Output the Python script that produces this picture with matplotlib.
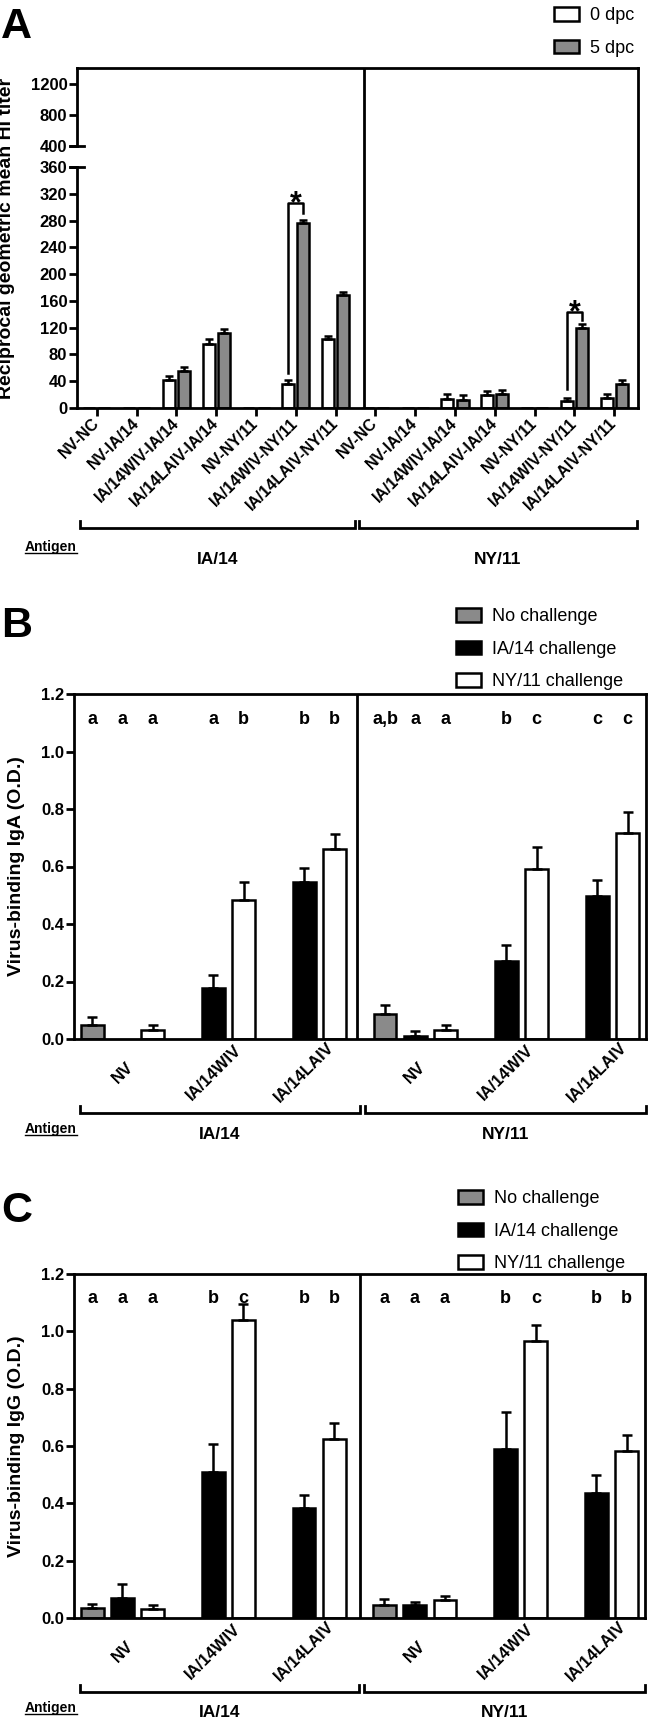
import numpy as np
import matplotlib
matplotlib.use('Agg')
import matplotlib.pyplot as plt
from matplotlib.lines import Line2D

plt.rcParams['font.family'] = ['Liberation Sans', 'DejaVu Sans']
plt.rcParams['font.weight'] = 'bold'
plt.rcParams['axes.labelweight'] = 'bold'

# ---- panel A: HI titers ----
hi_groups = ['NV-NC', 'NV-IA/14', 'IA/14WIV-IA/14', 'IA/14LAIV-IA/14',
             'NV-NY/11', 'IA/14WIV-NY/11', 'IA/14LAIV-NY/11']
hi_labels = hi_groups + hi_groups
hi_0dpc = [0, 0, 41.5, 95.5, 0, 35.5, 103, 0, 0, 14, 19, 0, 10, 15.5]
hi_0dpc_err = [0, 0, 6, 7, 0, 6, 4.5, 0, 0, 6.5, 6.5, 0, 5.5, 6]
hi_5dpc = [0, 0, 55, 111.5, 0, 276, 169, 0, 0, 12.5, 21, 0, 119, 35.5]
hi_5dpc_err = [0, 0, 6.5, 6.5, 0, 5.5, 5, 0, 0, 6.5, 6.5, 0, 6, 6.5]
hi_yticks = [0, 40, 80, 120, 160, 200, 240, 280, 320, 360, 400, 800, 1200]
# significance brackets: (group, bottom on 0 dpc side, top, bottom on 5 dpc side)
hi_sig = [(5, 52, 306, 291), (12, 29, 144, 131)]

# ---- panels B and C: virus-binding antibodies ----
od_groups = ['NV', 'IA/14WIV', 'IA/14LAIV', 'NV', 'IA/14WIV', 'IA/14LAIV']
antigens = ['IA/14', 'NY/11']
series_names = ['No challenge', 'IA/14 challenge', 'NY/11 challenge']

iga_none = [0.050, None, None, 0.088, None, None]
iga_none_err = [0.026, None, None, 0.029, None, None]
iga_ia14 = [None, 0.178, 0.545, 0.009, 0.270, 0.498]
iga_ia14_err = [None, 0.045, 0.049, 0.018, 0.057, 0.054]
iga_ny11 = [0.030, 0.483, 0.660, 0.031, 0.593, 0.716]
iga_ny11_err = [0.017, 0.064, 0.053, 0.016, 0.074, 0.072]
iga_letters = ['a', 'a', 'a', '', 'a', 'b', '', 'b', 'b',
               'a,b', 'a', 'a', '', 'b', 'c', '', 'c', 'c']

igg_none = [0.035, None, None, 0.047, None, None]
igg_none_err = [0.015, None, None, 0.019, None, None]
igg_ia14 = [0.070, 0.509, 0.385, 0.044, 0.591, 0.436]
igg_ia14_err = [0.049, 0.099, 0.043, 0.012, 0.128, 0.063]
igg_ny11 = [0.032, 1.041, 0.626, 0.062, 0.967, 0.581]
igg_ny11_err = [0.012, 0.054, 0.054, 0.016, 0.054, 0.059]
igg_letters = ['a', 'a', 'a', '', 'b', 'c', '', 'b', 'b',
               'a', 'a', 'a', '', 'b', 'c', '', 'b', 'b']

GRAY = '#8a8a8a'
LW = 2.0
W, H = 650, 1723
fig = plt.figure(figsize=(W / 100, H / 100), dpi=100)
underlined = []


def box(l, t, r, b):
    return [l / W, 1 - b / H, (r - l) / W, (b - t) / H]


def fxy(x, y):
    return (x / W, 1 - y / H)


def bracket(ax, spans, y, tip):
    tr = ax.get_xaxis_transform()
    for x0, x1 in spans:
        ax.plot([x0, x0, x1, x1], [y + tip, y, y, y + tip], color='k', lw=LW,
                transform=tr, clip_on=False, solid_joinstyle='miter')


def antigen_labels(ax, spans, x_ant, y_ant, y_lab):
    tr = ax.get_xaxis_transform()
    t = ax.text(x_ant, y_ant, 'Antigen', fontsize=10, ha='center',
                va='center', transform=tr)
    underlined.append(t)
    for (x0, x1), name in zip(spans, antigens):
        ax.text((x0 + x1) / 2, y_lab, name, fontsize=12.5, ha='center',
                va='center', transform=tr)


def style_spines(ax):
    for s in ax.spines.values():
        s.set_linewidth(LW)


def add_legend(ax, handles, names, left, top):
    ax.legend(handles, names, loc='upper left', bbox_to_anchor=fxy(left, top),
              bbox_transform=fig.transFigure, frameon=False,
              prop={'weight': 'normal', 'size': 13}, handlelength=1.4,
              handleheight=0.8, handletextpad=0.6, labelspacing=0.85,
              borderpad=0, borderaxespad=0)


# ================= Panel A =================
axA = fig.add_axes(box(77, 68, 638, 408))


def fwd(y):
    y = np.asarray(y, dtype=float)
    return np.where(y <= 360, y, np.where(y <= 400, 360 + (y - 360) * 0.785,
                                          391.4 + (y - 400) * 0.1165))


def inv(t):
    t = np.asarray(t, dtype=float)
    return np.where(t <= 360, t, np.where(t <= 391.4, 360 + (t - 360) / 0.785,
                                          400 + (t - 391.4) / 0.1165))


axA.set_yscale('function', functions=(fwd, inv))
xa = np.arange(len(hi_labels))
off, bw = 0.19, 0.3
b0 = axA.bar(xa - off, hi_0dpc, bw, color='white', edgecolor='k', linewidth=1.8)
b5 = axA.bar(xa + off, hi_5dpc, bw, color=GRAY, edgecolor='k', linewidth=1.8)
for xs, v, e in ((xa - off, hi_0dpc, hi_0dpc_err), (xa + off, hi_5dpc, hi_5dpc_err)):
    v = np.array(v); e = np.array(e); m = v > 0
    axA.errorbar(xs[m], v[m], yerr=[np.zeros(m.sum()), e[m]], fmt='none',
                 ecolor='k', elinewidth=1.8, capsize=3, capthick=1.8)

axA.set_ylim(0, 1400)
axA.set_xlim(-0.5, 13.6)
axA.set_yticks(hi_yticks, [str(t) for t in hi_yticks])
axA.set_xticks(xa, hi_labels)
plt.setp(axA.get_xticklabels(), rotation=45, ha='right', va='center',
         rotation_mode='anchor')
axA.tick_params(axis='y', labelsize=12, length=6, width=LW, pad=1)
axA.tick_params(axis='x', labelsize=11.5, length=6, width=LW, pad=3)
style_spines(axA)
axA.spines['left'].set_visible(False)
yt = axA.get_yaxis_transform()
for y0, y1 in ((0, 360), (400, 1400)):
    axA.plot([0, 0], [y0, y1], color='k', lw=LW, transform=yt, clip_on=False)
for yb in (360, 400):
    axA.plot([-0.013, 0.013], [yb, yb], color='k', lw=LW, transform=yt,
             clip_on=False)
axA.axvline(6.71, color='k', lw=LW)

for g, ylo, ytop, yhi in hi_sig:
    axA.plot([g - off, g - off, g + off, g + off], [ylo, ytop, ytop, yhi],
             color='k', lw=1.8)
    axA.text(g, ytop - 14, '*', fontsize=22, ha='center', va='baseline')

axA.set_ylabel('Reciprocal geometric mean HI titer', fontsize=14)
axA.yaxis.set_label_coords(-0.11, 0.5)
add_legend(axA, [b0, b5], ['0 dpc', '5 dpc'], 554, 7)

spansA = [(-0.43, 6.48), (6.58, 13.57)]
bracket(axA, spansA, -0.353, 0.02)
antigen_labels(axA, spansA, -1.16, -0.41, -0.447)
fig.text(*fxy(1, 38), 'A', fontsize=31, va='baseline', ha='left')


# ================= Panels B and C =================
group_start = np.array([0, 3, 6, 9.66, 12.66, 15.66])
slots = np.concatenate([[s, s + 1, s + 2] for s in group_start])


def od_panel(ax, data, letters, ylabel, divider):
    handles = []
    for k, (vals, errs, color) in enumerate(zip(data[0::2], data[1::2],
                                                [GRAY, 'black', 'white'])):
        m = np.array([v is not None for v in vals])
        xs = group_start[m] + k
        v = np.array([x for x in vals if x is not None])
        e = np.array([x for x in errs if x is not None])
        h = ax.bar(xs, v, 0.75, color=color, edgecolor='k', linewidth=1.8)
        ax.errorbar(xs, v, yerr=[np.zeros(len(v)), e], fmt='none', ecolor='k',
                    elinewidth=1.8, capsize=3.6, capthick=1.8)
        handles.append(h)
    for x, t in zip(slots, letters):
        ax.text(x, 1.113, t, fontsize=13, ha='center', va='center')
    ax.set_ylim(0, 1.2)
    ax.set_xlim(-0.6, 18.27)
    ax.axvline(divider, color='k', lw=LW)
    yt = np.arange(0, 1.21, 0.2)
    ax.set_yticks(yt, ['%.1f' % t for t in yt])
    ax.set_xticks(group_start + 1, od_groups)
    plt.setp(ax.get_xticklabels(), rotation=45, ha='center', va='center',
             rotation_mode='anchor')
    ax.tick_params(axis='x', length=0, pad=24, labelsize=12)
    ax.tick_params(axis='y', labelsize=12, length=6, width=LW, pad=1)
    style_spines(ax)
    ax.set_ylabel(ylabel, fontsize=14)
    ax.yaxis.set_label_coords(-0.086, 0.5)
    spans = [(-0.40, 8.83), (9.0, 18.27)]
    bracket(ax, spans, -0.214, 0.02)
    antigen_labels(ax, spans, -1.36, -0.262, -0.276)
    return handles


axB = fig.add_axes(box(74, 694, 646, 1039))
hB = od_panel(axB, [iga_none, iga_none_err, iga_ia14, iga_ia14_err,
                    iga_ny11, iga_ny11_err],
              iga_letters, 'Virus-binding IgA (O.D.)', 8.75)
add_legend(axB, hB, series_names, 456, 608)
fig.text(*fxy(1, 637), 'B', fontsize=31, va='baseline', ha='left')

axC = fig.add_axes(box(74, 1274, 645, 1618))
hC = od_panel(axC, [igg_none, igg_none_err, igg_ia14, igg_ia14_err,
                    igg_ny11, igg_ny11_err],
              igg_letters, 'Virus-binding IgG (O.D.)', 8.84)
add_legend(axC, hC, series_names, 458, 1190)
fig.text(*fxy(1, 1222), 'C', fontsize=31, va='baseline', ha='left')

# underline the "Antigen" captions
fig.canvas.draw()
for t in underlined:
    bb = t.get_window_extent().transformed(fig.transFigure.inverted())
    yl = bb.y0 + 1.0 / H
    fig.add_artist(Line2D([bb.x0, bb.x1], [yl, yl], color='k', lw=1.0,
                          transform=fig.transFigure))

fig.savefig('out.png', dpi=100)
